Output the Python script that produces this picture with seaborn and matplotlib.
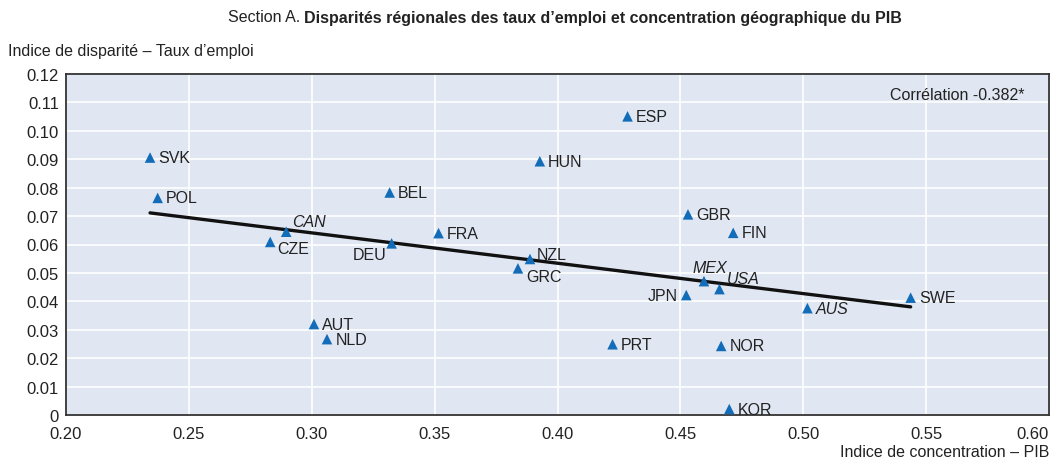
import matplotlib
matplotlib.use("Agg")
import matplotlib.pyplot as plt
import seaborn as sns
import pandas as pd
from matplotlib.ticker import FuncFormatter

countries = ["SVK", "POL", "BEL", "CAN", "CZE", "DEU", "FRA", "ESP", "HUN", "NZL", "GRC",
             "GBR", "FIN", "MEX", "USA", "JPN", "AUS", "SWE", "AUT", "NLD", "PRT", "NOR", "KOR"]
gdp_conc = [0.2342, 0.2373, 0.3317, 0.2896, 0.2831, 0.3325, 0.3516, 0.4285, 0.3928, 0.3888, 0.3839,
            0.4531, 0.4715, 0.4596, 0.4659, 0.4524, 0.5017, 0.5437, 0.3009, 0.3062, 0.4224, 0.4666, 0.4699]
emp_disp = [0.0906, 0.0764, 0.0783, 0.0645, 0.0609, 0.0604, 0.0640, 0.1051, 0.0893, 0.0549, 0.0516,
            0.0706, 0.0641, 0.0471, 0.0443, 0.0422, 0.0376, 0.0413, 0.0320, 0.0267, 0.0249, 0.0243, 0.0021]
italic = ["CAN", "MEX", "USA", "AUS"]
x_ticks = [0.20, 0.25, 0.30, 0.35, 0.40, 0.45, 0.50, 0.55, 0.60]
y_ticks = [0.00, 0.01, 0.02, 0.03, 0.04, 0.05, 0.06, 0.07, 0.08, 0.09, 0.10, 0.11, 0.12]

# label offsets in points (dx, dy, ha)
offsets = {
    "CAN": (4, 7, "left"), "CZE": (5, -5, "left"), "DEU": (-4, -8, "right"),
    "NZL": (5, 3, "left"), "GRC": (6, -6, "left"), "MEX": (-8, 10, "left"),
    "USA": (5, 8, "left"), "JPN": (-6, 0, "right"),
}

df = pd.DataFrame({"country": countries, "x": gdp_conc, "y": emp_disp})

sns.set_theme(style="white")
plt.rcParams["font.family"] = ["Liberation Sans", "DejaVu Sans"]
txt = "#222222"

fig = plt.figure(figsize=(10.59, 4.64), dpi=100)
ax = fig.add_axes([66 / 1059, 48 / 464, (1049 - 66) / 1059, (416 - 75) / 464])
ax.set_facecolor("#e0e7f3")

sns.regplot(data=df, x="x", y="y", scatter=False, ci=None, ax=ax, truncate=True,
            line_kws={"color": "#111111", "lw": 2.4, "zorder": 2})
sns.scatterplot(data=df, x="x", y="y", marker="^", s=58, color="#126cb8",
                edgecolor="none", ax=ax, zorder=3)

for c, xv, yv in zip(countries, gdp_conc, emp_disp):
    dx, dy, ha = offsets.get(c, (6, 0, "left"))
    ax.annotate(c, (xv, yv), xytext=(dx, dy), textcoords="offset points",
                ha=ha, va="center", fontsize=11.5, color=txt,
                style="italic" if c in italic else "normal", zorder=4)

ax.set_xlim(0.20, 0.60)
ax.set_ylim(0, 0.12)
ax.set_xticks(x_ticks)
ax.set_yticks(y_ticks)
ax.xaxis.set_major_formatter(FuncFormatter(lambda v, p: f"{v:.2f}"))
ax.yaxis.set_major_formatter(FuncFormatter(lambda v, p: "0" if abs(v) < 1e-9 else f"{v:.2f}"))
ax.grid(True, color="white", lw=1.2)
ax.set_axisbelow(True)
ax.tick_params(axis="both", direction="in", length=5, width=1, color="#333333",
               labelsize=12, labelcolor=txt, pad=5)
ax.tick_params(axis="x", pad=8)
ax.get_xticklabels()[-1].set_ha("right")
for sp in ax.spines.values():
    sp.set_color("#333333")
    sp.set_linewidth(1.3)
ax.set_xlabel("")
ax.set_ylabel("")

ax.text(0.975, 0.94, "Corrélation -0.382*", transform=ax.transAxes, ha="right", va="center",
        fontsize=11.5, color=txt)

# two-part title, centred as a whole
ty = 1 - 18 / 464
t1 = fig.text(0, ty, "Section A. ", ha="left", va="center", fontsize=11.5, color=txt)
t2 = fig.text(0, ty, "Disparités régionales des taux d’emploi et concentration géographique du PIB",
              ha="left", va="center", fontsize=11.5, fontweight="bold", color=txt)
r = fig.canvas.get_renderer()
w1 = t1.get_window_extent(r).width
w2 = t2.get_window_extent(r).width
x0 = 565 - (w1 + w2) / 2
t1.set_x(x0 / 1059)
t2.set_x((x0 + w1) / 1059)

fig.text(8 / 1059, 1 - 52 / 464, "Indice de disparité – Taux d’emploi", ha="left", va="center",
         fontsize=11.5, color=txt)
fig.text(1049 / 1059, 1 - 453 / 464, "Indice de concentration – PIB", ha="right", va="center",
         fontsize=11.5, color=txt)

fig.savefig("out.png", dpi=100)
